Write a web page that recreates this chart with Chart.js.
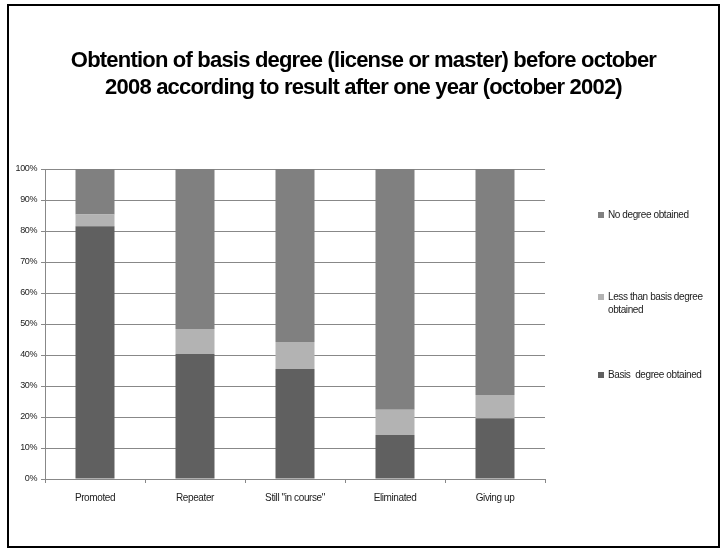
<!DOCTYPE html>
<html lang="en">
<head>
  <meta charset="UTF-8">
  <title>Basis degree by first-year result</title>
  <script src="https://cdn.jsdelivr.net/npm/chart.js"></script>
  <style>
    body {
      margin: 0;
      background: #fff;
    }

    .frame {
      position: absolute;
      left: 7px;
      top: 4px;
      width: 709px;
      height: 540px;
      border: 2px solid #000;
    }

    canvas {
      display: block;
    }
  </style>
</head>
<body>
  <div class="frame">
    <canvas id="degreeChart" width="709" height="540"></canvas>
  </div>

  <script>
    const categories = ['Promoted', 'Repeater', 'Still "in course"', 'Eliminated', 'Giving up'];
    const basisDegree = [81.5, 40.3, 35.5, 14.2, 19.6];
    const lessThanBasis = [3.8, 8.1, 8.7, 8.1, 7.5];
    const noDegree = [14.7, 51.6, 55.8, 77.7, 72.9];
    const yTicks = [0, 10, 20, 30, 40, 50, 60, 70, 80, 90, 100];
    const titleLines = ['Obtention of basis degree (license or master) before october',
                        '2008 according to result after one year (october 2002)'];

    const FONT = "'Liberation Sans', Arial, sans-serif";

    // title + legend drawn by hand so the lines and the wrapped label sit like the original
    const decorations = {
      id: 'decorations',
      beforeDraw(chart) {
        chart.ctx.letterSpacing = '-0.4px';
      },
      afterDraw(chart) {
        const ctx = chart.ctx;
        const area = chart.chartArea;
        ctx.save();
        ctx.fillStyle = '#000';
        ctx.font = 'bold 22px ' + FONT;
        ctx.letterSpacing = '-0.8px';
        ctx.textAlign = 'center';
        ctx.textBaseline = 'middle';
        ctx.fillText(titleLines[0], chart.width / 2, 55);
        ctx.fillText(titleLines[1], chart.width / 2, 82);

        const items = [
          { ds: 2, lines: ['No degree obtained'], y: 46 },
          { ds: 1, lines: ['Less than basis degree', 'obtained'], y: 128 },
          { ds: 0, lines: ['Basis  degree obtained'], y: 206 }
        ];
        ctx.font = '10px ' + FONT;
        ctx.letterSpacing = '-0.4px';
        ctx.textAlign = 'left';
        items.forEach(it => {
          const y = area.top + it.y;
          ctx.fillStyle = chart.data.datasets[it.ds].backgroundColor;
          ctx.fillRect(area.right + 53, y - 3, 6, 6);
          ctx.fillStyle = '#222';
          it.lines.forEach((t, i) => ctx.fillText(t, area.right + 63, y + i * 13));
        });
        ctx.restore();
      }
    };

    new Chart(document.getElementById('degreeChart'), {
      type: 'bar',
      data: {
        labels: categories,
        datasets: [
          { label: 'Basis  degree obtained', data: basisDegree, backgroundColor: '#606060' },
          { label: 'Less than basis degree obtained', data: lessThanBasis, backgroundColor: '#b3b3b3' },
          { label: 'No degree obtained', data: noDegree, backgroundColor: '#808080' }
        ]
      },
      options: {
        responsive: false,
        animation: false,
        layout: { padding: { top: 163, right: 173, left: 0, bottom: 0 } },
        datasets: {
          bar: { barPercentage: 0.39, categoryPercentage: 1, borderWidth: 0 }
        },
        plugins: {
          legend: { display: false },
          title: { display: false },
          tooltip: { enabled: false }
        },
        scales: {
          x: {
            stacked: true,
            afterFit: s => { s.height = 67; },
            grid: { drawOnChartArea: false, tickLength: 4, color: '#888' },
            border: { color: '#888' },
            ticks: { color: '#222', font: { family: FONT, size: 10 }, padding: 9, maxRotation: 0 }
          },
          y: {
            stacked: true,
            min: 0,
            max: 100,
            afterFit: s => { s.width = 36; },
            afterBuildTicks: s => { s.ticks = yTicks.map(v => ({ value: v })); },
            grid: { color: '#888', tickLength: 4 },
            border: { color: '#888' },
            ticks: {
              color: '#222',
              font: { family: FONT, size: 9 },
              padding: 4,
              callback: v => v + '%'
            }
          }
        }
      },
      plugins: [decorations]
    });
  </script>
</body>
</html>
